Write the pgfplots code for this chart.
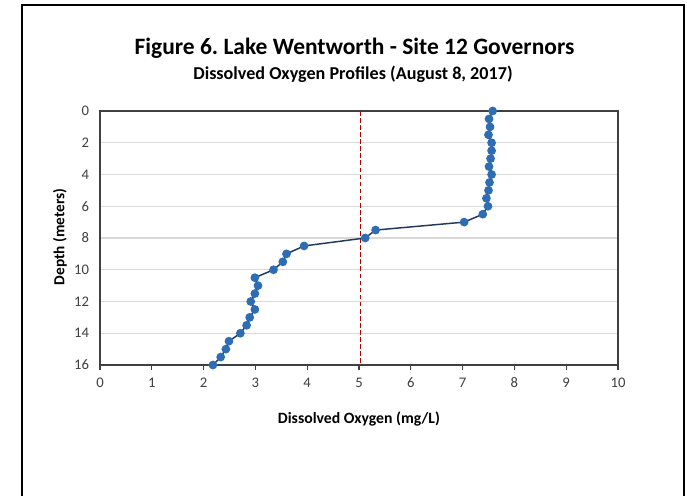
\documentclass[border=0pt]{standalone}
\usepackage{fontspec}
\setmainfont{Carlito}
\usepackage{pgfplots}
\pgfplotsset{compat=1.18}
\definecolor{serline}{HTML}{1F3A5F}
\definecolor{sermark}{HTML}{2E6DB4}
\definecolor{refred}{HTML}{B00000}
\definecolor{gridc}{HTML}{D9D9D9}
\definecolor{tickc}{HTML}{404040}
\definecolor{boxc}{HTML}{404040}
\frenchspacing
\begin{document}
\begin{tikzpicture}[x=1pt,y=1pt]
\useasboundingbox (0,0) rectangle (515.25,372);
\fill[white] (0,0) rectangle (515.25,372);
\draw[line width=1.5pt,black] (16.5,-2) -- (16.5,368.25) -- (513,368.25) -- (513,-2);
\node[anchor=base,font=\fontsize{17.6}{19}\selectfont\bfseries] at (265.9,330.75) {Figure 6. Lake Wentworth - Site 12 Governors};
\node[anchor=base,font=\fontsize{13.6}{15}\selectfont\bfseries] at (264.75,312.5) {Dissolved Oxygen Profiles (August 8, 2017)};
\node[rotate=90,font=\fontsize{11.5}{13}\selectfont\bfseries] at (45,194.25) {Depth (meters)};
\node[font=\fontsize{11.8}{13}\selectfont\bfseries] at (269.25,57.75) {Dissolved Oxygen (mg/L)};
\begin{axis}[
  at={(75pt,98.25pt)}, anchor=south west,
  scale only axis, width=388.5pt, height=190.5pt,
  xmin=0, xmax=10, ymin=0, ymax=16, y dir=reverse,
  xtick={0,1,...,10}, ytick={0,2,...,16},
  ymajorgrids, grid style={gridc, line width=0.9pt},
  axis line style={boxc, line width=0.9pt},
  tick style={boxc, line width=0.8pt},
  xtick pos=bottom, xtick align=outside, major tick length=4pt,
  ytick style={draw=none},
  ticklabel style={font=\fontsize{11}{12}\selectfont, text=tickc, inner sep=0pt},
  /pgf/number format/assume math mode=true,
  xticklabel style={anchor=north, yshift=-5.5pt},
  yticklabel style={anchor=east, xshift=-8pt},
  clip=false,
]
\addplot[refred, dash pattern=on 3.5pt off 1.8pt, line width=1.1pt] coordinates {(5.03,0) (5.03,16)};
\addplot[serline, line width=1.1pt, mark=*, mark size=2.7pt,
  mark options={fill=sermark, draw=sermark}] coordinates {
(7.58,0) (7.51,0.5) (7.53,1) (7.50,1.5) (7.56,2) (7.56,2.5) (7.54,3) (7.51,3.5)
(7.56,4) (7.52,4.5) (7.50,5) (7.46,5.5) (7.49,6) (7.39,6.5) (7.03,7) (5.32,7.5)
(5.12,8) (3.94,8.5) (3.60,9) (3.53,9.5) (3.35,10) (2.99,10.5) (3.05,11) (2.99,11.5)
(2.91,12) (2.99,12.5) (2.89,13) (2.83,13.5) (2.71,14) (2.49,14.5) (2.43,15) (2.33,15.5) (2.18,16)
};
\end{axis}
\end{tikzpicture}
\end{document}
